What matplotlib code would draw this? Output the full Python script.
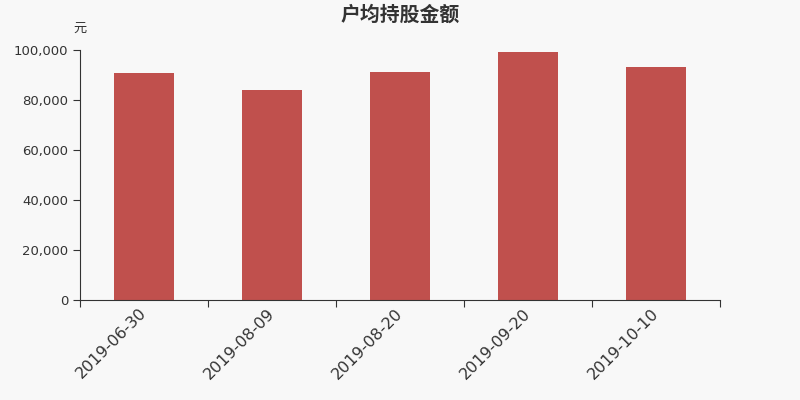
import matplotlib
matplotlib.use('Agg')
import matplotlib.pyplot as plt
import matplotlib.transforms as mtransforms
from matplotlib.ticker import FuncFormatter, FixedLocator

plt.rcParams['font.family'] = ['DejaVu Sans', 'Noto Sans CJK SC']

# 数据
dates = ['2019-06-30', '2019-08-09', '2019-08-20', '2019-09-20', '2019-10-10']
values = [90800, 84000, 91200, 99200, 93200]

bg = '#f8f8f8'
fig = plt.figure(figsize=(8, 4), dpi=100, facecolor=bg)
ax = fig.add_axes([0.1, 0.25, 0.8, 0.625], facecolor=bg)

x = list(range(len(dates)))
ax.bar(x, values, width=0.47, color='#c0504d', edgecolor='none')

ax.set_xlim(-0.5, len(dates) - 0.5)
ax.set_ylim(0, 100000)
ax.set_yticks(range(0, 100001, 20000))
ax.yaxis.set_major_formatter(FuncFormatter(lambda v, p: f'{int(v):,}'))

# 刻度线在分类边界, 标签在分类中心
ax.xaxis.set_major_locator(FixedLocator([i - 0.5 for i in range(len(dates) + 1)]))
ax.xaxis.set_major_formatter(FuncFormatter(lambda v, p: ''))
ax.xaxis.set_minor_locator(FixedLocator(x))
ax.set_xticklabels(dates, minor=True, rotation=45, ha='right', rotation_mode='anchor',
                   fontsize=11.5, color='#333333')
ax.tick_params(axis='x', which='minor', length=0, pad=4)
ax.tick_params(axis='x', which='major', length=5, color='#333333')
ax.tick_params(axis='y', length=5, color='#333333', labelsize=9.5, labelcolor='#333333')

shift = mtransforms.ScaledTranslation(-5 / 100, 0, fig.dpi_scale_trans)
for lbl in ax.get_xticklabels(minor=True):
    lbl.set_transform(lbl.get_transform() + shift)

for s in ['top', 'right']:
    ax.spines[s].set_visible(False)
for s in ['left', 'bottom']:
    ax.spines[s].set_color('#333333')

fig.text(0.5, 0.965, '户均持股金额', ha='center', va='center', fontsize=14.3,
         fontweight='bold', color='#333333', family=['Noto Sans CJK SC', 'DejaVu Sans'])
fig.text(0.1, 0.93, '元', ha='center', va='center', fontsize=9.5, color='#333333',
         family=['Noto Sans CJK SC', 'DejaVu Sans'])

fig.savefig('out.png', dpi=100, facecolor=bg)
